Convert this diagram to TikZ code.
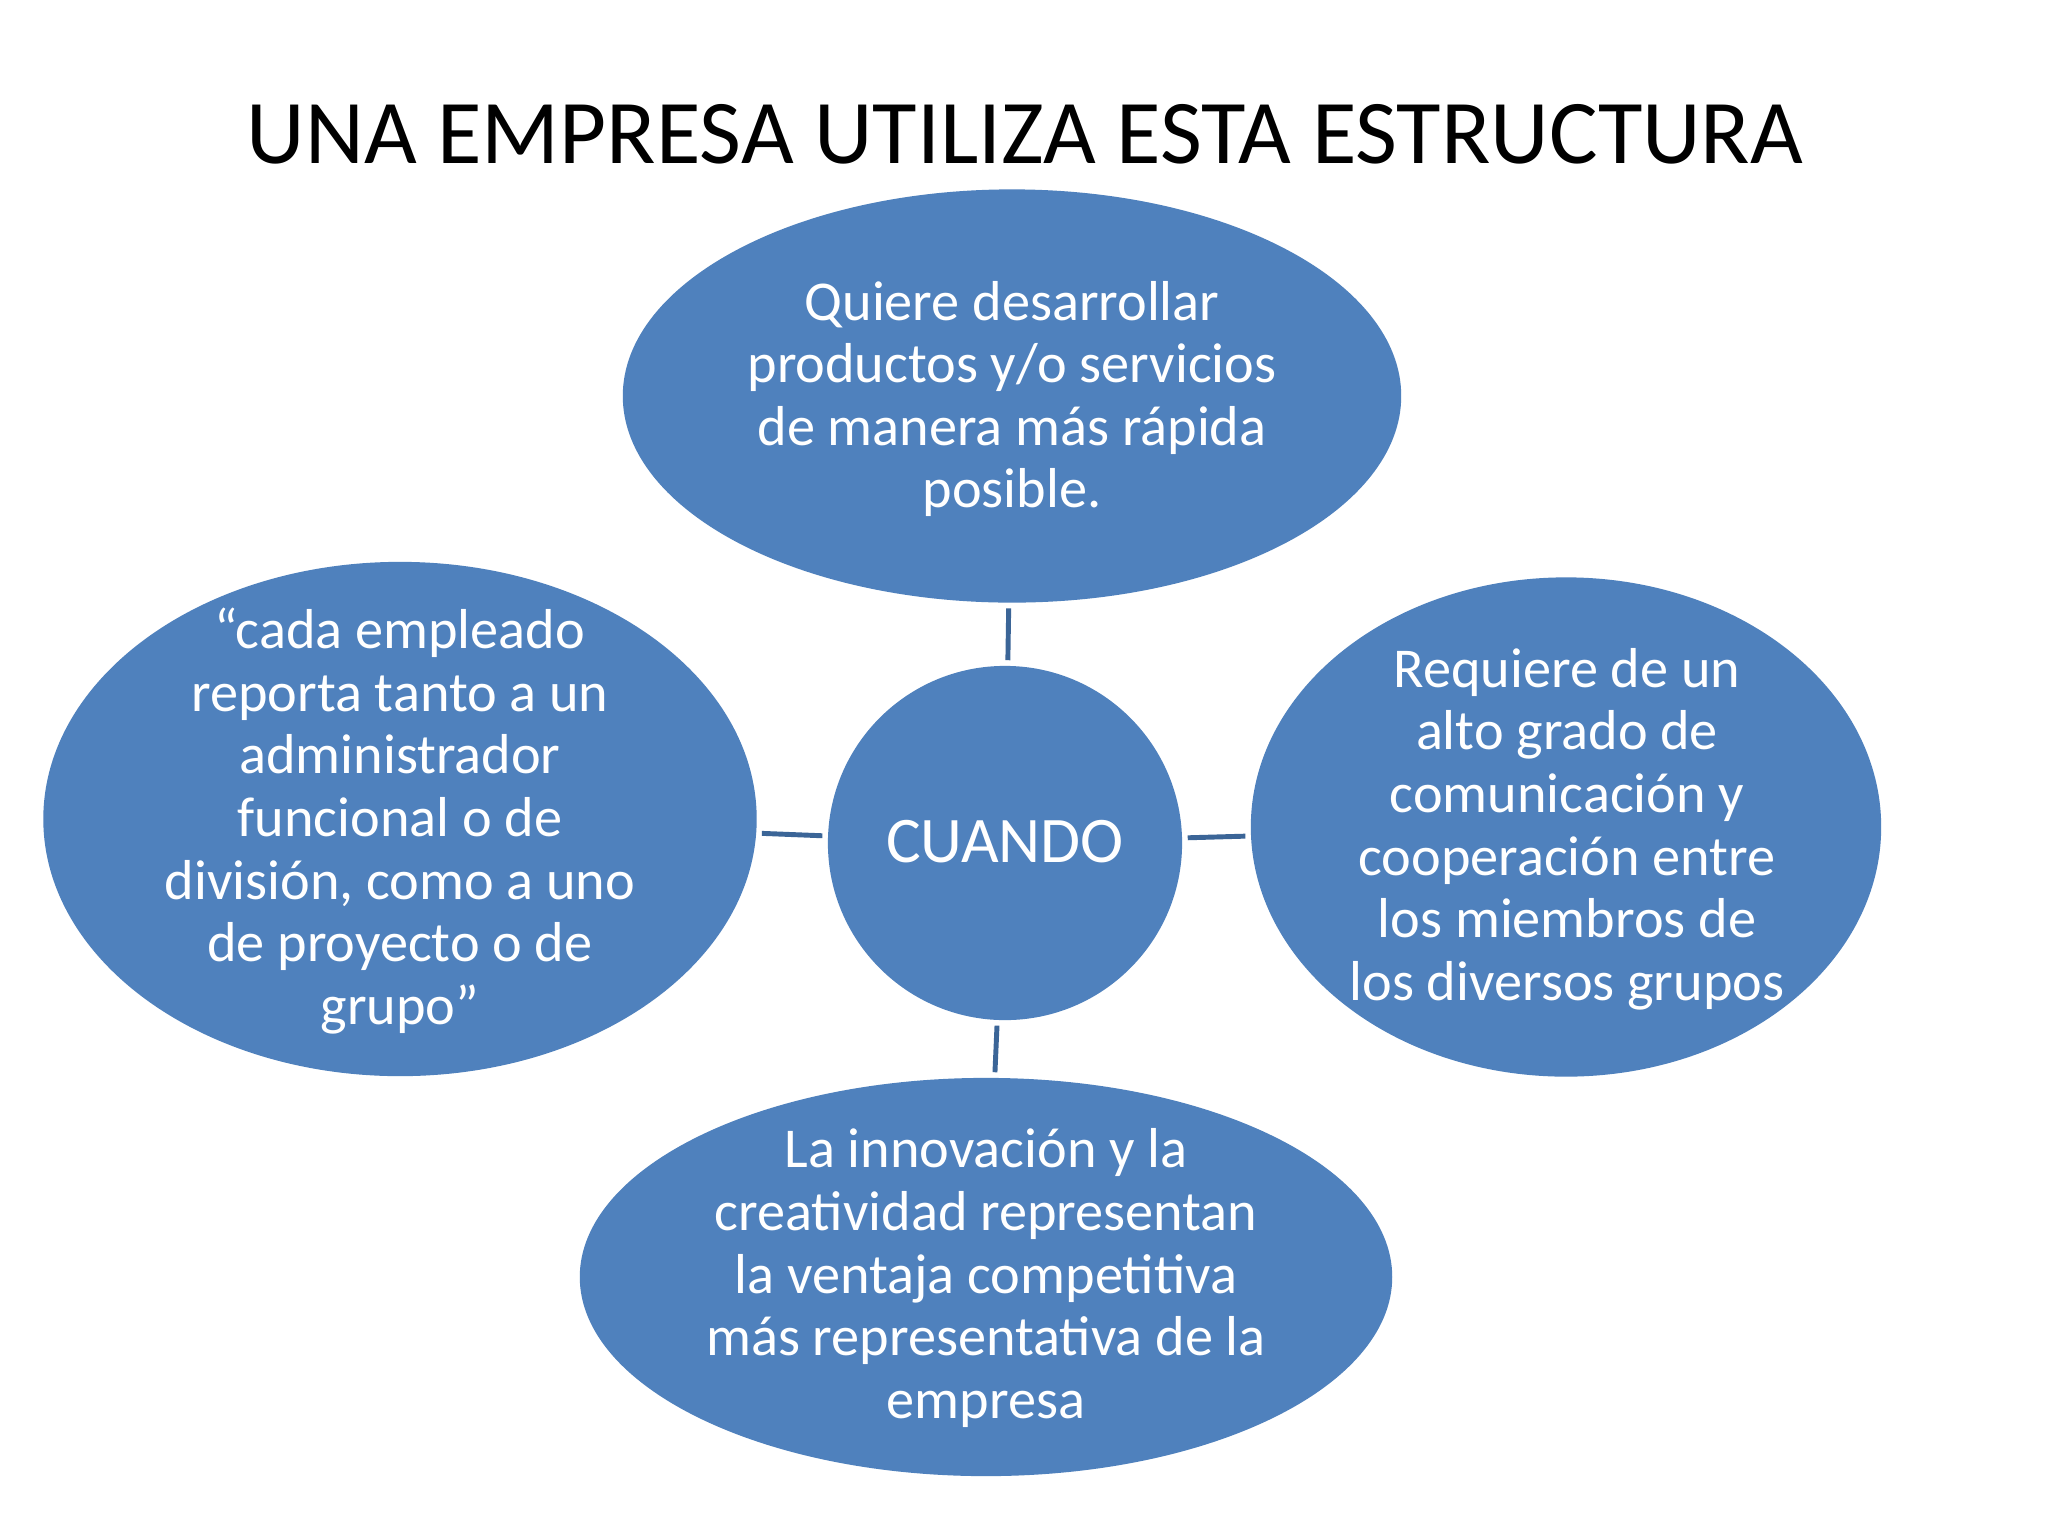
\documentclass[tikz,border=0pt]{standalone}
\usepackage{fontspec}
\setmainfont{Carlito}
\usetikzlibrary{shapes.geometric}
\definecolor{blobfill}{HTML}{4F81BD}
\definecolor{connline}{HTML}{3B6597}
\begin{document}
\begin{tikzpicture}[x=0.01cm,y=-0.01cm,
 blob/.style={ellipse, fill=blobfill, draw=none, inner sep=0pt},
 txt/.style={text=white, align=center, font=\fontsize{16}{17.8}\selectfont, inner sep=0pt},
 conn/.style={draw=connline, line width=1.4pt, shorten <=0.05cm, shorten >=0.05cm}]
\useasboundingbox[fill=white] (0,0) rectangle (2048,1536);
\node[font=\fontsize{25.9}{30}\selectfont, inner sep=0pt] (title) at (1025,134) {UNA EMPRESA UTILIZA ESTA ESTRUCTURA};

\node[blob, minimum width=7.78cm, minimum height=4.13cm] (top) at (1012,396) {};
\node[blob, minimum width=7.13cm, minimum height=5.14cm] (left) at (400,819) {};
\node[blob, minimum width=6.30cm, minimum height=4.99cm] (right) at (1566,827) {};
\node[blob, minimum width=8.12cm, minimum height=3.98cm] (bottom) at (986,1277) {};
\node[circle, fill=blobfill, inner sep=0pt, minimum size=3.54cm] (center) at (1005,843) {};

\node[txt] (toptxt) at (1012,399) {Quiere desarrollar\\productos y/o servicios\\de manera más rápida\\posible.};
\node[txt] (lefttxt) at (400,821) {“cada empleado\\reporta tanto a un\\administrador\\funcional o de\\división, como a uno\\de proyecto o de\\grupo”};
\node[txt] (righttxt) at (1567,829) {Requiere de un\\alto grado de\\comunicación y\\cooperación entre\\los miembros de\\los diversos grupos};
\node[txt] (bottomtxt) at (986,1278) {La innovación y la\\creatividad representan\\la ventaja competitiva\\más representativa de la\\empresa};
\node[text=white, font=\fontsize{18.5}{22}\selectfont, inner sep=0pt] (centertxt) at (1005,842) {CUANDO};

\draw[conn] (top) -- (center);
\draw[conn] (left) -- (center);
\draw[conn] (center) -- (right);
\draw[conn] (center) -- (bottom);
\end{tikzpicture}
\end{document}
